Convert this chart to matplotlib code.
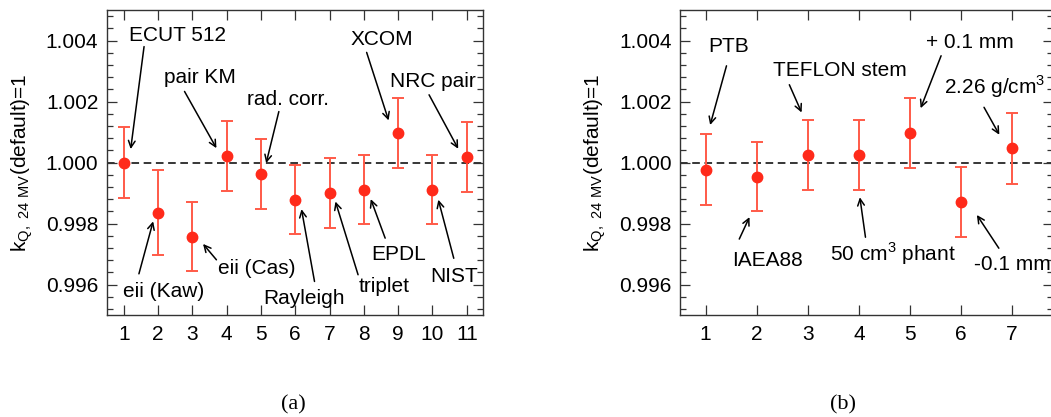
import matplotlib
matplotlib.use("Agg")
import matplotlib.pyplot as plt
from matplotlib.ticker import MultipleLocator

plt.rcParams['font.family'] = ['Liberation Sans', 'DejaVu Sans']
plt.rcParams['mathtext.fontset'] = 'custom'
plt.rcParams['mathtext.rm'] = 'Liberation Sans'

# panel (a) data
xa = [1, 2, 3, 4, 5, 6, 7, 8, 9, 10, 11]
ya = [1.00000, 0.99836, 0.99757, 1.00021, 0.99962, 0.99878, 0.99899, 0.99911, 1.00096, 0.99911, 1.00019]
ea = [0.00115, 0.00139, 0.00114, 0.00115, 0.00114, 0.00114, 0.00115, 0.00113, 0.00114, 0.00113, 0.00115]

# panel (b) data
xb = [1, 2, 3, 4, 5, 6, 7]
yb = [0.99977, 0.99954, 1.00025, 1.00024, 1.00097, 0.99870, 1.00046]
eb = [0.00117, 0.00113, 0.00114, 0.00115, 0.00114, 0.00115, 0.00115]

# labels: text, text pos (x, y, ha), arrow tail, arrow head
labels_a = [
    ("ECUT 512", (2.57, 1.0040, 'center'), (1.59, 1.00380), (1.20, 1.00044)),
    ("pair KM", (3.21, 1.0026, 'center'), (2.77, 1.00233), (3.70, 1.00047)),
    ("rad. corr.", (5.79, 1.00189, 'center'), (5.52, 1.00167), (5.15, 0.99998)),
    ("XCOM", (8.52, 1.00384, 'center'), (8.08, 1.00361), (8.72, 1.00138)),
    ("NRC pair", (10.0, 1.00247, 'center'), (9.90, 1.00222), (10.75, 1.00045)),
    ("eii (Kaw)", (2.16, 0.99558, 'center'), (1.44, 0.99635), (1.855, 0.99807)),
    ("eii (Cas)", (4.88, 0.99635, 'center'), (3.70, 0.99681), (3.31, 0.99733)),
    ("Rayleigh", (6.26, 0.99537, 'center'), (6.56, 0.99610), (6.18, 0.99847)),
    ("triplet", (8.60, 0.99574, 'center'), (7.83, 0.99632), (7.17, 0.99872)),
    ("EPDL", (9.0, 0.99681, 'center'), (8.62, 0.99752), (8.20, 0.99880)),
    ("NIST", (10.64, 0.99607, 'center'), (10.62, 0.99686), (10.17, 0.99878)),
]
labels_b = [
    ("PTB", (1.445, 1.00362, 'center'), (1.41, 1.00317), (1.09, 1.00123)),
    ("TEFLON stem", (3.63, 1.00284, 'center'), (2.64, 1.00255), (2.88, 1.00164)),
    ("+ 0.1 mm", (6.18, 1.00375, 'center'), (5.61, 1.00350), (5.21, 1.00178)),
    ("2.26 g/cm$^3$", (5.67, 1.00224, 'left'), (6.45, 1.00181), (6.75, 1.00091)),
    ("IAEA88", (2.22, 0.99661, 'center'), (1.66, 0.99749), (1.86, 0.99821)),
    ("50 cm$^3$ phant", (3.435, 0.99678, 'left'), (4.13, 0.99755), (4.02, 0.99886)),
    ("-0.1 mm", (6.255, 0.99648, 'left'), (6.74, 0.99719), (6.31, 0.99828)),
]

fig = plt.figure(figsize=(10.51, 4.17), dpi=100)
ax1 = fig.add_axes([0.1015, 0.2446, 0.3583, 0.7314])
ax2 = fig.add_axes([0.6470, 0.2446, 0.3549, 0.7314])


def draw_panel(ax, x, y, e, labels, xmax):
    ax.axhline(1.0, color='black', ls=(0, (5, 3)), lw=1.1, zorder=1)
    ax.errorbar(x, y, yerr=e, fmt='none', ecolor='#ff5a48', elinewidth=1.4,
                capsize=4.5, capthick=1.4, zorder=2)
    ax.plot(x, y, 'o', color='#ff2a1a', markersize=7.5, zorder=3)
    ax.set_xlim(0.5, xmax)
    ax.set_ylim(0.995, 1.005)
    ax.xaxis.set_major_locator(MultipleLocator(1))
    ax.yaxis.set_major_locator(MultipleLocator(0.002))
    ax.yaxis.set_minor_locator(MultipleLocator(0.0004))
    ax.tick_params(which='both', direction='in', top=True, right=True,
                   labelsize=15, width=0.9, color='#333333')
    ax.tick_params(which='major', length=7)
    ax.tick_params(which='minor', length=4)
    ax.tick_params(axis='x', pad=7)
    ax.tick_params(axis='y', pad=6)
    ax.yaxis.set_major_formatter(plt.FuncFormatter(lambda v, p: f"{v:.3f}"))
    for s in ax.spines.values():
        s.set_linewidth(1.0)
        s.set_color('#333333')
    ax.set_ylabel(r'k$_{\rm Q,\ 24\ MV}$(default)=1', fontsize=15, labelpad=8)
    for txt, (tx, ty, ha), tail, head in labels:
        ax.text(tx, ty, txt, ha=ha, va='baseline', fontsize=15)
        ax.annotate('', xy=head, xytext=tail,
                    arrowprops=dict(arrowstyle='->', lw=1.1, color='black',
                                    mutation_scale=12, shrinkA=0, shrinkB=0))


draw_panel(ax1, xa, ya, ea, labels_a, 11.48)
draw_panel(ax2, xb, yb, eb, labels_b, 7.80)

fig.text(293 / 1051, 1 - 405 / 417, "(a)", ha='center', va='center',
         fontsize=16, family='Liberation Serif')
fig.text(843 / 1051, 1 - 405 / 417, "(b)", ha='center', va='center',
         fontsize=16, family='Liberation Serif')

fig.savefig('out.png', dpi=100)
